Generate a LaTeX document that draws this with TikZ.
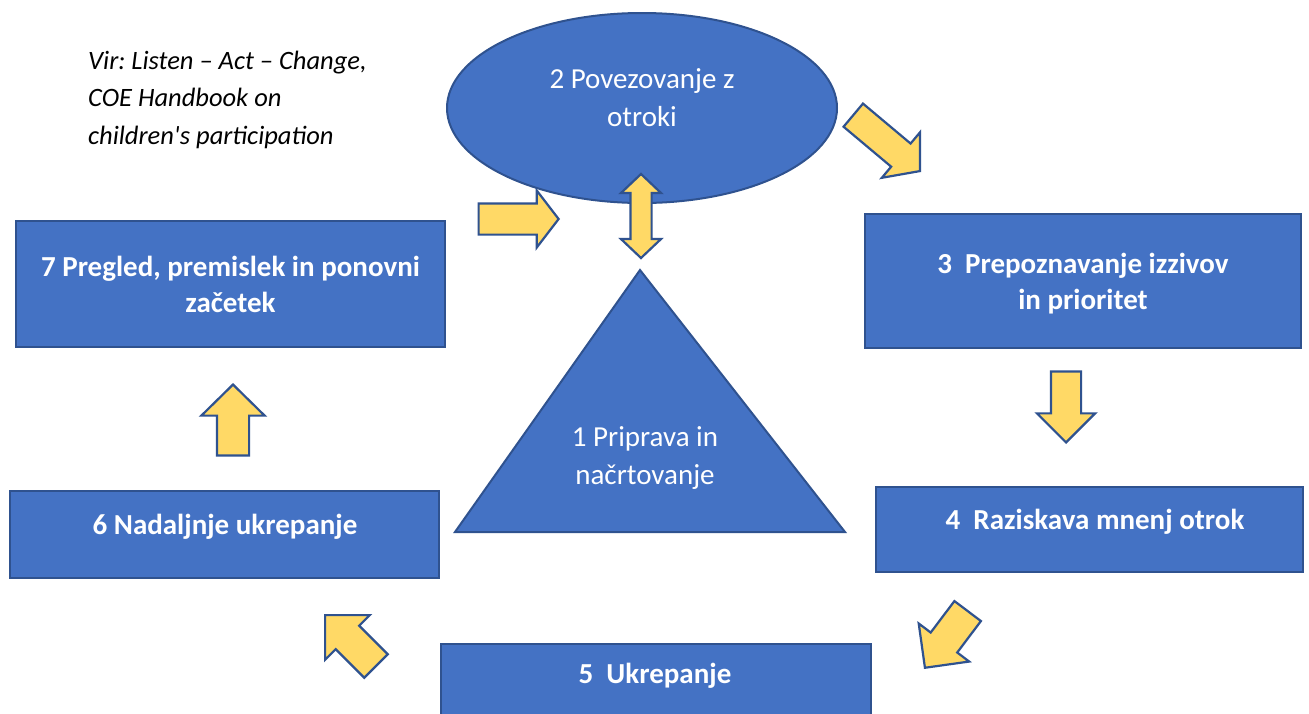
\documentclass[tikz,border=0pt]{standalone}
\usepackage{fontspec}
\setmainfont{Carlito}
\frenchspacing
\usetikzlibrary{shapes.geometric,shapes.arrows}
\definecolor{bfill}{HTML}{4472C4}
\definecolor{bline}{HTML}{2F528F}
\definecolor{yfill}{HTML}{FFD966}
\tikzset{
  bluebox/.style={rectangle, draw=bline, fill=bfill, line width=2, inner sep=0},
  yarrow/.style={single arrow, draw=bline, fill=yfill, line width=2.2, inner xsep=0, inner ysep=#1, anchor=tip},
  ydarrow/.style={double arrow, draw=bline, fill=yfill, line width=2.2, inner xsep=0, inner ysep=#1},
  boldtxt/.style={text=white, align=center, anchor=base, inner sep=0, font=\fontsize{29}{36}\selectfont\bfseries},
  regtxt/.style={text=white, align=center, anchor=base, inner sep=0, font=\fontsize{29}{38}\selectfont},
  srctxt/.style={text=black, align=left, anchor=base west, inner sep=0, font=\fontsize{26.5}{37.5}\selectfont\itshape}
}
\begin{document}
\begin{tikzpicture}[x=1pt,y=-1pt]
\useasboundingbox[fill=white] (0,0) rectangle (1309,713);
% source note (anchor = baseline of last line)
\node[srctxt] (src) at (88,144) {Vir: Listen -- Act -- Change,\\COE Handbook on\\children\textquotesingle s participation};
% ellipse
\node[ellipse, draw=bline, fill=bfill, line width=2, minimum width=390, minimum height=190, inner sep=0] (e2) at (642,108) {};
\node[regtxt] (t2) at (642,126) {2 Povezovanje z\\otroki};
% triangle
\coordinate (ta) at (640,270);
\coordinate (tr) at (845,532);
\coordinate (tl) at (455,532);
\draw[draw=bline, fill=bfill, line width=2, line join=miter] (ta) -- (tr) -- (tl) -- cycle;
\node[regtxt] (t1) at (645,484) {1 Priprava in\\načrtovanje};
% boxes
\node[bluebox, minimum width=429, minimum height=126] (b7) at (230.5,284) {};
\node[boldtxt] (t7) at (230.5,312) {7 Pregled, premislek in ponovni\\začetek};
\node[bluebox, minimum width=436, minimum height=134] (b3) at (1083,281) {};
\node[boldtxt] (t3) at (1083,309) {3~~Prepoznavanje izzivov\\in prioritet};
\node[bluebox, minimum width=429, minimum height=87] (b6) at (224.5,534.5) {};
\node[boldtxt] (t6) at (225,534) {6 Nadaljnje ukrepanje};
\node[bluebox, minimum width=427, minimum height=85] (b4) at (1089.5,529.5) {};
\node[boldtxt] (t4) at (1095,529) {4~~Raziskava mnenj otrok};
\node[bluebox, minimum width=430, minimum height=96] (b5) at (656,692) {};
\node[boldtxt] (t5) at (655,683) {5~~Ukrepanje};
% yellow block arrows (inner ysep = half shaft width, placed by their tips)
\node[yarrow=14.5, minimum height=80, single arrow head extend=13, single arrow tip angle=105] (ra) at (560,219) {};
\node[ydarrow=9.5, rotate=90, minimum height=84, double arrow head extend=9.5, double arrow tip angle=93] (da) at (641,216) {};
\node[yarrow=14, rotate=-40, minimum height=87, single arrow head extend=14.5, single arrow tip angle=100] (ar) at (921,172) {};
\node[yarrow=14, rotate=-90, minimum height=71, single arrow head extend=14, single arrow tip angle=90] (dn) at (1066,444) {};
\node[yarrow=15.5, rotate=-127, minimum height=71, single arrow head extend=15, single arrow tip angle=90] (br) at (924,669) {};
\node[yarrow=15.5, rotate=135, minimum height=72, single arrow head extend=15, single arrow tip angle=90] (bl) at (324,614) {};
\node[yarrow=15, rotate=90, minimum height=71, single arrow head extend=15.5, single arrow tip angle=91] (up) at (233,383) {};
\end{tikzpicture}
\end{document}
